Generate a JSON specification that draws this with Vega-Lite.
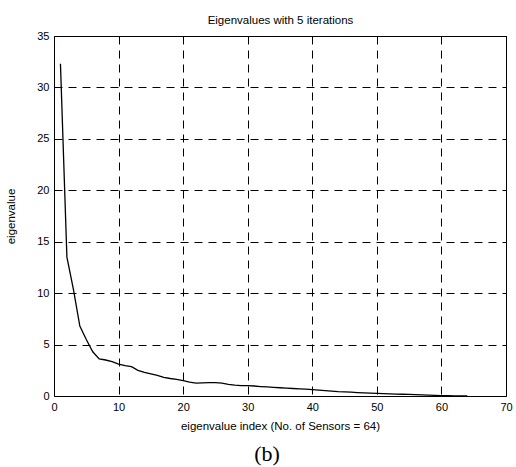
{
  "$schema": "https://vega.github.io/schema/vega-lite/v6.json",
  "width": 452,
  "height": 360,
  "autosize": {"type": "none"},
  "padding": {"left": 54, "top": 36, "right": 10, "bottom": 71},
  "background": "white",
  "title": {"text": "(b)", "orient": "bottom", "font": "Liberation Serif", "fontSize": 22, "fontWeight": "normal", "color": "black", "offset": 12, "baseline": "top", "dx": -13},
  "data": {"values": [
    {"index": 1, "eigenvalue": 32.3}, {"index": 2, "eigenvalue": 13.5}, {"index": 3, "eigenvalue": 10.4}, {"index": 4, "eigenvalue": 6.8},
    {"index": 5, "eigenvalue": 5.5}, {"index": 6, "eigenvalue": 4.3}, {"index": 7, "eigenvalue": 3.6}, {"index": 8, "eigenvalue": 3.5},
    {"index": 9, "eigenvalue": 3.35}, {"index": 10, "eigenvalue": 3.1}, {"index": 11, "eigenvalue": 2.95}, {"index": 12, "eigenvalue": 2.85},
    {"index": 13, "eigenvalue": 2.5}, {"index": 14, "eigenvalue": 2.3}, {"index": 15, "eigenvalue": 2.15}, {"index": 16, "eigenvalue": 2.0},
    {"index": 17, "eigenvalue": 1.8}, {"index": 18, "eigenvalue": 1.7}, {"index": 19, "eigenvalue": 1.62}, {"index": 20, "eigenvalue": 1.5},
    {"index": 21, "eigenvalue": 1.35}, {"index": 22, "eigenvalue": 1.25}, {"index": 23, "eigenvalue": 1.28}, {"index": 24, "eigenvalue": 1.3},
    {"index": 25, "eigenvalue": 1.3}, {"index": 26, "eigenvalue": 1.25}, {"index": 27, "eigenvalue": 1.12}, {"index": 28, "eigenvalue": 1.05},
    {"index": 29, "eigenvalue": 1.0}, {"index": 30, "eigenvalue": 1.0}, {"index": 31, "eigenvalue": 0.97}, {"index": 32, "eigenvalue": 0.92},
    {"index": 33, "eigenvalue": 0.88}, {"index": 34, "eigenvalue": 0.84}, {"index": 35, "eigenvalue": 0.8}, {"index": 36, "eigenvalue": 0.77},
    {"index": 37, "eigenvalue": 0.73}, {"index": 38, "eigenvalue": 0.7}, {"index": 39, "eigenvalue": 0.66}, {"index": 40, "eigenvalue": 0.62},
    {"index": 41, "eigenvalue": 0.58}, {"index": 42, "eigenvalue": 0.53}, {"index": 43, "eigenvalue": 0.48}, {"index": 44, "eigenvalue": 0.43},
    {"index": 45, "eigenvalue": 0.4}, {"index": 46, "eigenvalue": 0.37}, {"index": 47, "eigenvalue": 0.33}, {"index": 48, "eigenvalue": 0.3},
    {"index": 49, "eigenvalue": 0.27}, {"index": 50, "eigenvalue": 0.25}, {"index": 51, "eigenvalue": 0.23}, {"index": 52, "eigenvalue": 0.21},
    {"index": 53, "eigenvalue": 0.19}, {"index": 54, "eigenvalue": 0.17}, {"index": 55, "eigenvalue": 0.15}, {"index": 56, "eigenvalue": 0.13},
    {"index": 57, "eigenvalue": 0.11}, {"index": 58, "eigenvalue": 0.09}, {"index": 59, "eigenvalue": 0.06}, {"index": 60, "eigenvalue": 0.04},
    {"index": 61, "eigenvalue": 0.03}, {"index": 62, "eigenvalue": 0.02}, {"index": 63, "eigenvalue": 0.01}, {"index": 64, "eigenvalue": 0.0}
  ]},
  "config": {
    "view": {"stroke": "black", "strokeWidth": 1},
    "axis": {
      "labelFont": "Liberation Sans", "titleFont": "Liberation Sans",
      "labelColor": "black", "titleColor": "black",
      "labelFontSize": 11, "titleFontSize": 11.5, "titleFontWeight": "normal",
      "ticks": false, "domain": false,
      "gridColor": "black", "gridDash": [8, 6], "gridOpacity": 1, "gridWidth": 1
    }
  },
  "layer": [
    {
      "mark": {"type": "line", "color": "black", "strokeWidth": 1.3},
      "encoding": {
        "x": {"field": "index", "type": "quantitative",
          "scale": {"domain": [0, 70], "nice": false},
          "axis": {"values": [0, 10, 20, 30, 40, 50, 60, 70], "title": "eigenvalue index (No. of Sensors = 64)", "labelPadding": 5, "titlePadding": 8, "grid": true, "labelFlush": false}},
        "y": {"field": "eigenvalue", "type": "quantitative",
          "scale": {"domain": [0, 35], "nice": false},
          "axis": {"values": [0, 5, 10, 15, 20, 25, 30, 35], "title": "eigenvalue", "titlePadding": 20, "labelPadding": 5, "grid": true}}
      }
    },
    {
      "mark": {"type": "point", "opacity": 0},
      "encoding": {
        "x": {"field": "index", "type": "quantitative",
          "axis": {"orient": "top", "labels": false, "grid": false, "title": "Eigenvalues with 5 iterations", "titlePadding": 11}}
      }
    }
  ],
  "resolve": {"axis": {"x": "independent"}}
}
